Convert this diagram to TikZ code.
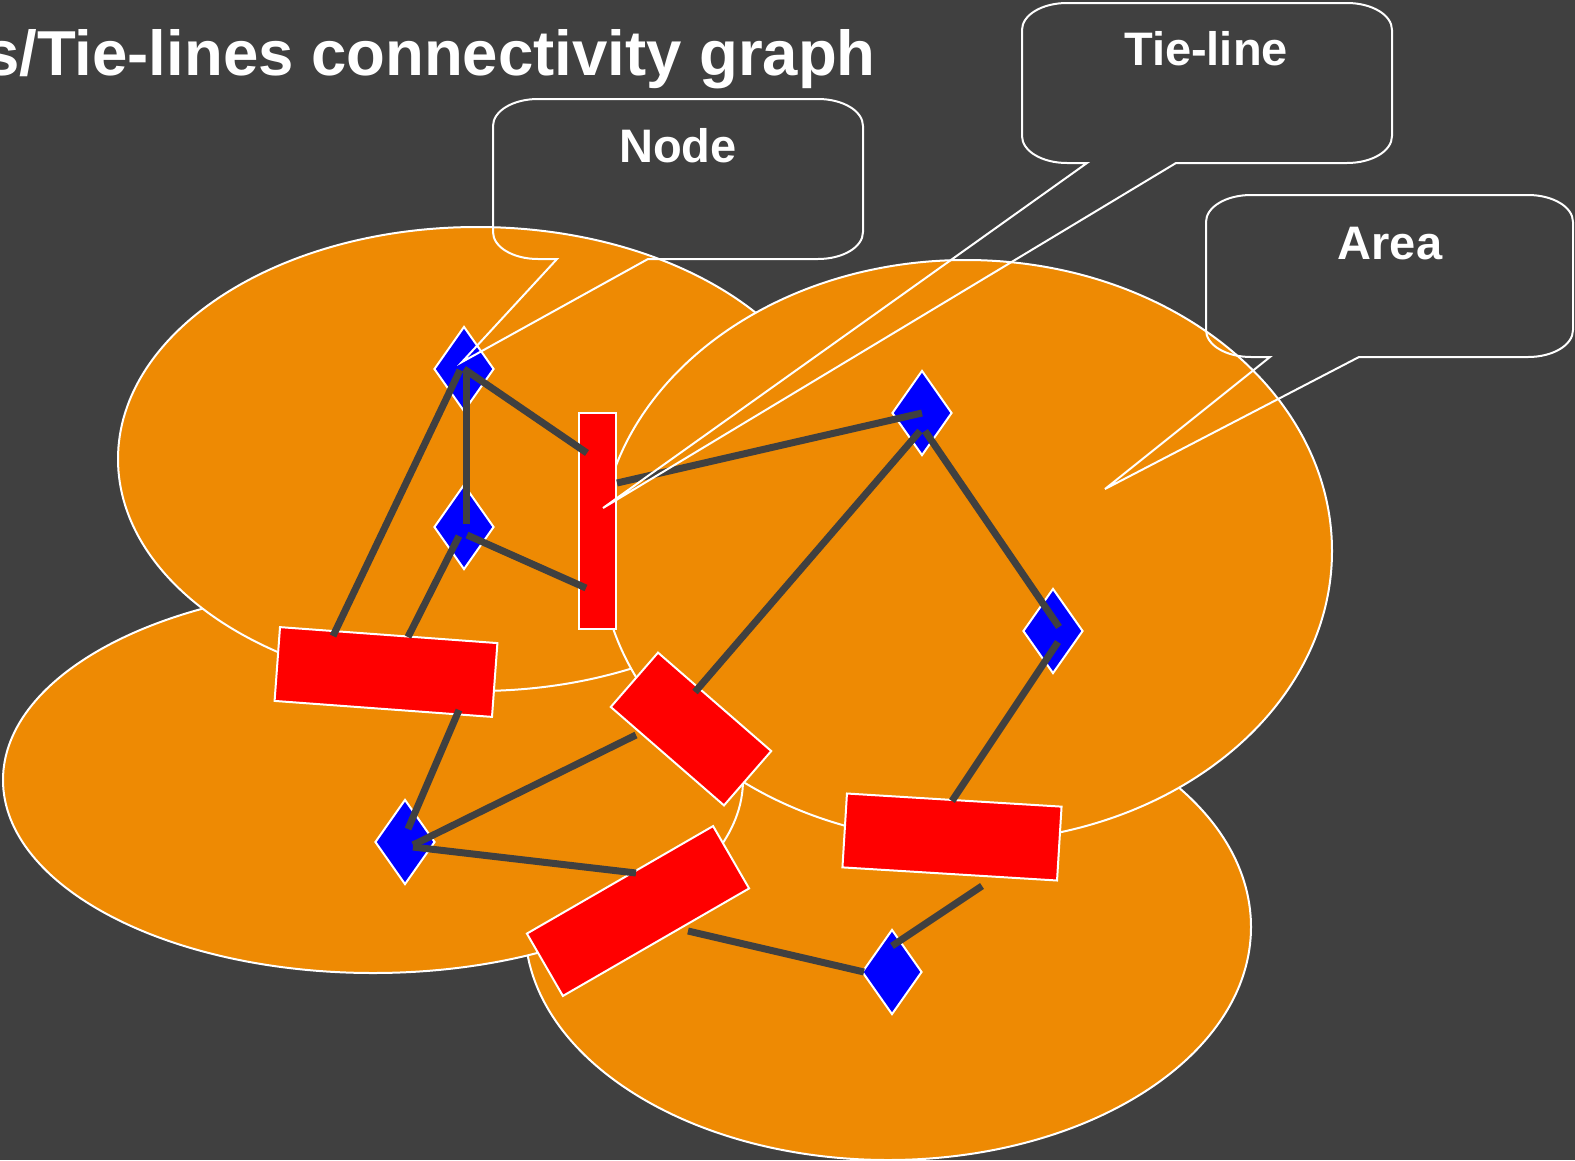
\documentclass[tikz,border=0pt]{standalone}
\usepackage{fontspec}
\setmainfont{Liberation Sans}
\usetikzlibrary{shapes.geometric,calc}

\definecolor{bg}{RGB}{64,64,64}
\definecolor{areaorange}{RGB}{238,138,3}
\definecolor{linkgray}{RGB}{64,64,64}

% rounded speech bubble: left, top, right, bottom, tail x1, tail x2, tip x, tip y
\newcommand{\speechcallout}[8]{%
  \draw[callout] (#5,#4) -- (#7,#8) -- (#6,#4) -- ({#3-45},#4)
    .. controls ({#3-20},#4) and (#3,{#4-12}) .. (#3,{#4-27})
    -- (#3,{#2+27})
    .. controls (#3,{#2+12}) and ({#3-20},#2) .. ({#3-45},#2)
    -- ({#1+45},#2)
    .. controls ({#1+20},#2) and (#1,{#2+12}) .. (#1,{#2+27})
    -- (#1,{#4-27})
    .. controls (#1,{#4-12}) and ({#1+20},#4) .. ({#1+45},#4)
    -- cycle;}

\begin{document}
\begin{tikzpicture}[x=1pt,y=-1pt,
  area/.style={fill=areaorange, draw=white, line width=2pt},
  bar/.style={rectangle, draw=white, line width=2pt, fill=red, inner sep=0pt},
  busnode/.style={diamond, draw=white, line width=2pt, fill=blue, inner sep=0pt,
                  minimum width=60pt, minimum height=85pt},
  tie/.style={draw=linkgray, line width=7pt},
  callout/.style={draw=white, line width=2pt},
  label/.style={text=white, font=\fontsize{47}{52}\selectfont\bfseries, inner sep=0pt, anchor=base},
  heading/.style={text=white, font=\fontsize{63.5}{70}\selectfont\bfseries, inner sep=0pt, anchor=base east}]

% background and page size
\fill[bg] (0,0) rectangle (1575,1160);
\useasboundingbox (0,0) rectangle (1575,1160);

% areas
\filldraw[area] (888,927) ellipse [x radius=363pt, y radius=233pt];
\filldraw[area] (373,780) ellipse [x radius=370pt, y radius=193pt];
\filldraw[area] (477,459) ellipse [x radius=359pt, y radius=232pt];
\filldraw[area] (966,551) ellipse [x radius=366pt, y radius=291pt];

% tie-lines
\node[bar, minimum width=37pt, minimum height=216pt] (r1) at (597.5,521) {};
\node[bar, minimum width=218pt, minimum height=74pt, rotate=-4.2] (r2) at (386,672) {};
\node[bar, minimum width=150pt, minimum height=72pt, rotate=-41] (r3) at (691,729) {};
\node[bar, minimum width=215pt, minimum height=72pt, rotate=30] (r4) at (638,911) {};
\node[bar, minimum width=215pt, minimum height=74pt, rotate=-3.5] (r5) at (952,837) {};

% nodes
\node[busnode] (d1) at (464,369) {};
\node[busnode] (d2) at (464,527) {};
\node[busnode] (d3) at (922,413) {};
\node[busnode] (d4) at (1053,631) {};
\node[busnode] (d5) at (405,842) {};
\node[busnode] (d6) at (892,972) {};

% connections
\draw[tie] (d1.center) -- ($(r1.center)+(-10.5,-68)$);
\draw[tie] ($(d1.center)+(2,1)$) -- ($(d2.center)+(2,-3)$);
\draw[tie] ($(d1.center)+(-4,1)$) -- ($(r2.center)+(-53,-36)$);
\draw[tie] ($(d2.center)+(-5,9)$) -- ($(r2.center)+(22,-35)$);
\draw[tie] ($(d2.center)+(3,8)$) -- ($(r1.center)+(-11.5,67)$);
\draw[tie] ($(r1.center)+(19.5,-38)$) -- (d3.center);
\draw[tie] ($(d3.center)+(-2,18)$) -- ($(r3.center)+(4,-37)$);
\draw[tie] ($(d3.center)+(3,18)$) -- ($(d4.center)+(6,-4)$);
\draw[tie] ($(d4.center)+(5,11)$) -- ($(r5.center)+(0,-36)$);
\draw[tie] ($(r2.center)+(73,38)$) -- ($(d5.center)+(3,-13)$);
\draw[tie] ($(d5.center)+(8,3)$) -- ($(r3.center)+(-55,6)$);
\draw[tie] ($(d5.center)+(8,5)$) -- ($(r4.center)+(-2,-38)$);
\draw[tie] ($(r5.center)+(30,49)$) -- ($(d6.center)+(0,-26)$);
\draw[tie] ($(r4.center)+(50,20)$) -- ($(d6.center)+(-28,0)$);

% callouts
\speechcallout{493}{99}{863}{259}{557}{648}{462}{362}
\speechcallout{1022}{3}{1392}{163}{1087}{1176}{603}{508}
\speechcallout{1206}{195}{1573}{357}{1270}{1359}{1105}{489}

\node[label] (nodelabel) at (678,162) {Node};
\node[label] (tielabel) at (1206,65) {Tie-line};
\node[label] (arealabel) at (1390,259) {Area};

% title
\node[heading] (title) at (876,75) {s/Tie-lines connectivity graph};
\end{tikzpicture}
\end{document}
